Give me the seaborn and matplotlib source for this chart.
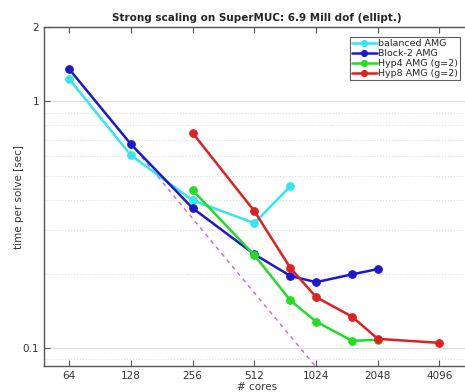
import matplotlib
matplotlib.use("Agg")
import matplotlib.pyplot as plt
import seaborn as sns
import pandas as pd
import numpy as np

# data
cores_balanced = [64, 128, 256, 512, 768]
time_balanced = [1.23, 0.604, 0.397, 0.321, 0.453]

cores_block2 = [64, 128, 256, 512, 768, 1024, 1536, 2048]
time_block2 = [1.35, 0.67, 0.369, 0.240, 0.196, 0.185, 0.199, 0.209]

cores_hyp4 = [256, 512, 768, 1024, 1536, 2048]
time_hyp4 = [0.436, 0.238, 0.156, 0.128, 0.107, 0.108]

cores_hyp8 = [256, 512, 768, 1024, 1536, 2048, 4096]
time_hyp8 = [0.744, 0.359, 0.211, 0.161, 0.134, 0.109, 0.105]

# ideal scaling reference, starting from Block-2 at 128 cores
cores_ideal = [128, 256, 512, 1024, 2048]
time_ideal = [0.67, 0.335, 0.1675, 0.08375, 0.041875]

xticks = [64, 128, 256, 512, 1024, 2048, 4096]

series = [
    ("balanced AMG", cores_balanced, time_balanced, "#33e6f0"),
    ("Block-2 AMG", cores_block2, time_block2, "#1a1acc"),
    ("Hyp4 AMG (g=2)", cores_hyp4, time_hyp4, "#22dd22"),
    ("Hyp8 AMG (g=2)", cores_hyp8, time_hyp8, "#e02020"),
]

sns.set_style("white")
plt.rcParams['font.family'] = ['DejaVu Sans']

fig = plt.figure(figsize=(4.65, 3.92), dpi=100)
ax = fig.add_axes([0.095, 0.066, 0.915, 0.865])

ax.set_xscale("log", base=2)
ax.set_yscale("log")

sns.lineplot(x=cores_ideal, y=time_ideal, ax=ax, color="#d060e0",
             linestyle=(0, (3, 3)), linewidth=1.0, legend=False)

for name, c, t, col in series:
    sns.lineplot(x=c, y=t, ax=ax, color=col, marker="o", markersize=5.5,
                 markeredgecolor=col, linewidth=1.8, label=name)

ax.set_xlim(48.3, 5750)
ax.set_ylim(0.0845, 2)
ax.set_xticks(xticks)
ax.set_xticklabels([str(v) for v in xticks])
ax.set_yticks([0.1, 1, 2])
ax.set_yticklabels(["0.1", "1", "2"])
ax.set_yticks([0.09] + [i / 10 for i in range(2, 10)], minor=True)
ax.set_xticks([], minor=True)
ax.tick_params(axis="both", which="major", direction="in", length=4,
               labelsize=7.5, color="#555555", labelcolor="#333333",
               top=True, left=True, bottom=True)
ax.tick_params(axis="y", which="minor", length=0, labelleft=False)

ax.yaxis.grid(True, which="major", color="#dddddd", linewidth=0.8)
ax.yaxis.grid(True, which="minor", color="#dddddd", linestyle=":", linewidth=0.8)
ax.xaxis.grid(False)

for s in ["left", "bottom", "top"]:
    ax.spines[s].set_color("#555555")
    ax.spines[s].set_linewidth(1.0)

ax.set_xlabel("# cores", fontsize=7.5, color="#333333", labelpad=1)
ax.set_ylabel("time per solve [sec]", fontsize=7.5, color="#333333", labelpad=-1)
ax.set_title("Strong scaling on SuperMUC: 6.9 Mill dof (ellipt.)",
             fontsize=7.5, fontweight="bold", pad=4)

leg = ax.legend(loc="upper left", bbox_to_anchor=(0.719, 0.97), fontsize=6.8,
                frameon=True, fancybox=False, edgecolor="#333333",
                handlelength=2.6, handletextpad=0.2, borderpad=0.2,
                labelspacing=0.1, borderaxespad=0, markerscale=0.8)
leg.get_frame().set_linewidth(0.8)

fig.savefig("out.png", dpi=100)
